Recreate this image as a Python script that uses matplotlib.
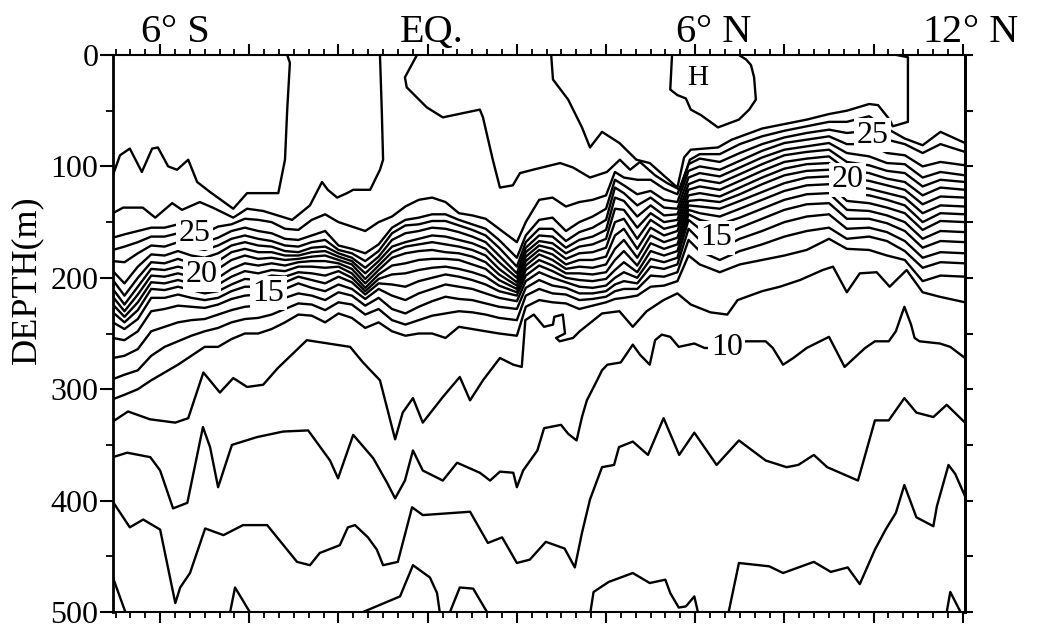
import numpy as np
import matplotlib
matplotlib.use("Agg")
import matplotlib.pyplot as plt

plt.rcParams['font.family'] = ['Liberation Serif', 'DejaVu Serif']

# ---------------- data (latitude in degrees, negative = S; depth in m) ----------------
LAT_BAND = [-7.06, -6.8, -6.5, -6.2, -5.9, -5.6, -5.3, -5.0, -4.7, -4.4,
            -4.1, -3.8, -3.5, -3.2, -2.9, -2.6, -2.3, -2.0, -1.7, -1.4,
            -1.1, -0.8, -0.5, -0.2, 0.1, 0.4, 0.7, 1.0, 1.3, 1.6,
            2.0, 2.2, 2.5, 2.8, 3.1, 3.4, 3.7, 4.0, 4.2, 4.4,
            4.7, 5.0, 5.3, 5.6, 5.85, 6.1, 6.55, 7.0, 7.5, 8.0,
            8.5, 9.0, 9.4, 9.9, 10.3, 10.7, 11.1, 11.5, 12.05]

ISO_25 = [164,161,158,155,155,152,158,160,154,152, 147,148,150,156,157,148,143,150,154,158,
          150,145,136,130,128,132,142,144,147,156, 168,150,130,128,136,132,130,126,105,110,
          112,112,120,125,98,93,96,88,80,74, 70,67,70,68,76,80,88,80,87]
ISO_24 = [175,172,168,163,163,160,166,168,164,158, 155,158,160,165,166,162,158,171,174,178,
          170,155,148,146,143,143,148,152,156,166, 182,162,148,146,158,150,145,138,112,117,
          125,122,130,132,104,100,103,95,86,79, 76,73,80,80,88,90,100,96,99]
ISO_23 = [185,186,178,171,172,168,173,175,171,165, 162,165,167,171,172,168,166,175,178,185,
          176,160,153,152,149,149,153,157,162,173, 190,168,156,156,167,159,155,148,119,124,
          135,128,137,138,110,106,109,101,92,85, 82,79,88,91,97,98,110,105,108]
ISO_22 = [194,205,190,179,180,176,180,182,178,171, 168,171,172,176,177,173,172,178,182,191,
          181,166,160,158,155,156,159,163,168,180, 196,173,162,163,173,166,163,157,128,131,
          145,135,144,143,116,112,115,107,98,90, 87,85,96,99,104,106,118,112,114]
ISO_21 = [202,216,200,186,187,183,187,189,185,177, 174,177,177,180,180,177,176,181,185,196,
          185,172,168,165,162,163,166,169,174,186, 200,177,167,169,178,172,170,165,138,139,
          155,142,150,148,121,118,121,113,104,96, 93,91,103,106,111,114,126,119,121]
ISO_20 = [210,224,208,192,193,190,193,196,192,184, 180,183,182,184,183,181,180,184,188,201,
          189,177,172,170,168,170,172,175,180,192, 204,181,171,174,183,178,177,173,150,147,
          165,148,156,153,126,124,127,119,110,102, 98,97,110,113,117,121,134,127,128]
ISO_19 = [217,230,215,198,199,196,199,202,200,192, 187,189,187,189,186,185,185,187,192,205,
          193,182,178,176,175,177,178,181,186,197, 207,185,175,179,188,184,184,181,162,156,
          174,155,162,158,131,130,132,125,116,108, 104,103,117,120,124,128,142,135,136]
ISO_18 = [224,235,222,204,205,202,205,208,206,199, 194,196,193,194,190,190,191,190,196,209,
          197,189,187,184,183,183,184,188,192,202, 210,189,179,184,192,190,191,188,174,166,
          182,162,168,164,135,136,138,131,123,115, 110,109,124,126,130,135,150,142,143]
ISO_17 = [231,240,229,210,211,208,211,214,212,206, 201,202,198,199,195,196,198,194,200,212,
          201,197,196,193,191,190,192,195,199,207, 213,193,184,189,196,196,197,195,184,176,
          189,169,174,170,139,142,145,138,130,122, 117,116,131,133,137,142,157,149,150]
ISO_16 = [240,246,237,218,218,215,218,220,218,212, 208,208,203,204,199,202,205,199,204,215,
          205,206,208,203,200,197,199,202,206,212, 216,198,189,194,200,202,203,201,193,186,
          195,176,180,176,143,148,152,146,138,130, 125,124,139,140,144,150,165,158,159]
ISO_15 = [254,256,248,230,228,225,226,227,224,219, 216,215,212,210,205,209,212,206,210,219,
          210,216,220,214,210,206,208,210,214,218, 221,203,195,200,204,208,209,207,200,195,
          200,183,186,182,148,156,163,155,147,139, 134,133,147,147,151,158,173,167,168]
ISO_14 = [272,270,264,248,244,240,238,237,233,229, 226,225,222,218,214,216,220,213,216,225,
          218,228,232,226,221,217,219,220,223,226, 228,209,202,207,209,214,214,212,206,203,
          205,190,192,188,156,166,174,165,158,150, 145,143,156,155,159,167,182,177,178]
ISO_13 = [291,287,283,270,262,257,252,248,245,240, 237,236,233,228,223,224,229,222,224,233,
          228,238,242,238,234,232,230,231,233,236, 238,216,210,214,215,220,219,217,212,210,
          210,198,199,195,166,176,184,176,170,163, 158,155,165,163,167,176,191,186,187]
ISO_12 = [309,305,300,292,285,278,270,262,262,255, 250,250,246,240,233,234,240,232,236,245,
          240,248,252,250,250,254,244,246,248,250, 252,226,220,222,223,228,225,222,219,218,
          216,208,207,203,180,188,195,188,184,180, 175,165,174,175,180,184,203,198,199]

# 27 C isotherm, southern part (outcrops near 3 S)
ISO_27S_LAT = [-7.06, -6.90, -6.68, -6.41, -6.18, -6.05, -5.82, -5.62, -5.37, -5.17,
               -4.88, -4.36, -4.05, -3.35, -3.20, -3.15, -3.09, -3.15]
ISO_27S_DEP = [108, 90, 84, 105, 84, 83, 100, 103, 94, 114, 123, 138, 124, 124, 94, 49, 7, 0]
# 26 C isotherm, southern part (outcrops near 1 S)
ISO_26S_LAT = [-7.06, -6.83, -6.39, -6.11, -5.73, -5.51, -5.11, -4.82, -4.36, -4.05, -3.69,
               -3.04, -2.64, -2.37, -2.24, -2.03, -1.81, -1.67, -1.29, -1.07, -1.00, -1.03, -1.07]
ISO_26S_DEP = [142, 137, 137, 146, 133, 139, 132, 137, 146, 138, 140,
               148, 135, 114, 121, 128, 124, 121, 121, 103, 94, 49, 0]
# 26 C isotherm, northern part (outcrops at the equator)
ISO_26N_LAT = [-0.24, -0.51, -0.47, -0.02, 0.34, 1.17, 1.24, 1.46, 1.62, 1.91, 2.07, 2.36,
               2.97, 3.26, 3.64, 4.02, 4.31, 4.54, 4.76, 5.10, 5.37, 5.66, 5.88, 6.10, 6.55,
               7.0, 7.5, 8.0, 8.5, 9.0, 9.4, 9.9, 10.3, 10.7, 11.1, 11.5, 12.05]
ISO_26N_DEP = [0, 20, 29, 47, 56, 49, 56, 94, 119, 117, 106, 103,
               97, 101, 110, 105, 94, 103, 96, 108, 115, 121, 94, 89, 89,
               80, 73, 68, 64, 60, 60, 55, 66, 75, 81, 69, 79]
# 27 C isotherm, northern warm pool (3 N - 11 N)
ISO_27N_LAT = [2.77, 2.81, 3.15, 3.46, 3.64, 3.91, 4.30, 4.68, 4.98, 5.60, 5.75, 5.90, 6.51,
               6.82, 7.50, 8.00, 8.50, 9.00, 9.40, 9.90, 10.10, 10.36, 10.43, 10.77, 10.77, 10.52]
ISO_27N_DEP = [0, 22, 40, 65, 83, 69, 79, 94, 97, 119, 92, 85, 83,
               76, 66, 62, 58, 53, 50, 44, 45, 58, 64, 60, 2, 0]
# 28 C closed high near 6 N
ISO_28_LAT = [5.48, 5.44, 5.60, 5.79, 5.90, 6.13, 6.51, 6.98, 7.21, 7.36, 7.32, 7.25, 7.14, 6.98]
ISO_28_DEP = [0, 31, 36, 39, 49, 54, 65, 58, 49, 40, 20, 9, 4, 0]

ISO_11_LAT = [-7.06, -6.72, -6.23, -5.66, -5.37, -5.03, -4.66, -4.36, -4.05, -3.69,
              -3.36, -2.71, -1.74, -1.45, -1.07, -0.73, -0.56, -0.33, -0.11, 0.34,
              0.72, 0.95, 1.24, 1.62, 1.92, 2.11, 2.19, 2.38, 2.61, 2.81,
              2.84, 3.03, 3.08, 2.88, 2.96, 3.26, 3.41, 3.91, 4.30, 4.60,
              4.91, 5.29, 5.60, 5.90, 6.34, 6.72, 6.95, 7.50, 7.90, 8.35,
              8.86, 9.09, 9.40, 9.69, 10.07, 10.36, 10.74, 11.10, 11.48, 12.05]
ISO_11_DEP = [329, 320, 327, 330, 326, 285, 303, 290, 298, 296,
              281, 256, 262, 276, 292, 345, 321, 308, 330, 307,
              289, 310, 292, 272, 278, 280, 238, 233, 244, 242,
              235, 233, 250, 254, 257, 254, 248, 232, 230, 244,
              230, 220, 214, 224, 231, 233, 220, 212, 208, 202,
              193, 190, 213, 196, 195, 208, 193, 213, 217, 222]

ISO_10_LAT = [-7.06, -6.74, -6.22, -6.00, -5.71, -5.39, -5.04, -4.88, -4.70, -4.39,
              -3.83, -3.24, -2.68, -2.19, -2.01, -1.67, -1.22, -0.91, -0.73, -0.51,
              -0.33, -0.11, 0.34, 0.66, 1.17, 1.40, 1.62, 1.92, 2.00, 2.14,
              2.46, 2.61, 2.99, 3.15, 3.34, 3.46, 3.57, 3.80, 3.91, 4.03,
              4.33, 4.60, 4.76, 4.98, 5.10, 5.25, 5.44, 5.63, 5.98, 6.21,
              6.67, 7.13, 7.58, 7.74, 7.97, 8.20, 8.50, 9.00, 9.35, 9.81,
              10.03, 10.34, 10.50, 10.69, 10.84, 10.92, 11.03, 11.49, 11.72, 12.05]
ISO_10_DEP = [361, 357, 361, 373, 407, 402, 334, 352, 388, 350,
              343, 338, 337, 364, 380, 341, 362, 384, 398, 382,
              355, 373, 382, 366, 375, 382, 374, 375, 388, 373,
              355, 335, 332, 340, 346, 325, 310, 292, 283, 278,
              276, 260, 269, 278, 256, 251, 253, 262, 259, 263,
              263, 257, 257, 263, 278, 272, 263, 253, 280, 263,
              257, 257, 248, 226, 242, 254, 257, 259, 262, 272]

ISO_9_LAT = [-7.06, -6.68, -6.38, -6.00, -5.66, -5.55, -5.33, -4.99, -4.58, -4.14,
             -3.60, -2.93, -2.64, -2.42, -1.97, -1.79, -1.63, -1.34, -1.14, -1.00,
             -0.67, -0.35, -0.11, 0.95, 1.35, 1.67, 2.00, 2.29, 2.65, 3.07,
             3.30, 3.46, 3.64, 3.91, 4.18, 4.29, 4.60, 4.94, 5.29, 5.64,
             5.98, 6.48, 6.98, 7.58, 8.05, 8.31, 8.66, 8.96, 9.65, 10.03,
             10.34, 10.69, 10.96, 11.34, 11.64, 12.05]
ISO_9_DEP = [401, 424, 417, 426, 492, 478, 465, 425, 431, 422,
             422, 455, 458, 447, 440, 424, 422, 433, 444, 458,
             455, 406, 413, 410, 438, 433, 456, 453, 437, 443,
             460, 429, 399, 370, 368, 352, 347, 359, 326, 359,
             339, 368, 346, 364, 370, 368, 359, 370, 382, 328,
             328, 308, 321, 325, 314, 330]

# 8 C isotherm: pieces between the bottom of the section and 500 m
ISO_8_PIECES_LAT = [[-7.06, -6.78],
                    [-4.43, -4.32, -3.99],
                    [-1.45, -0.62, -0.33, 0.05, 0.21, 0.27],
                    [0.50, 0.72, 1.02, 1.33],
                    [3.65, 3.72, 4.06, 4.60, 4.98, 5.33, 5.44, 5.63, 5.79, 5.98, 6.06],
                    [6.75, 6.98, 7.66, 7.97, 8.66, 9.04, 9.42, 9.69, 10.03, 10.27, 10.50,
                     10.69, 10.96, 11.34, 11.42, 11.68, 11.83, 12.05],
                    [11.64, 11.72, 11.95]]
ISO_8_PIECES_DEP = [[469, 500],
                    [500, 478, 500],
                    [500, 486, 458, 469, 483, 500],
                    [500, 478, 479, 500],
                    [500, 482, 473, 465, 474, 471, 483, 496, 495, 486, 500],
                    [500, 456, 459, 465, 455, 464, 460, 475, 444, 426, 411,
                     386, 415, 423, 405, 368, 376, 396],
                    [500, 482, 500]]

LABEL_TEXT = ['25', '20', '15', '25', '20', '15', '10']
LABEL_LAT = [-5.22, -5.06, -3.58, 9.98, 9.41, 6.47, 6.71]
LABEL_DEP = [160, 197, 214, 72, 112, 164, 263]

TOP_TICK_LAT = [-6, 0, 6, 12]
TOP_TICK_NUM = ['6', 'EQ.', '6', '12']
TOP_TICK_HEMI = ['\u00b0 S', '', '\u00b0 N', '\u00b0 N']
DEPTH_TICKS = [0, 100, 200, 300, 400, 500]

# ---------------- figure ----------------
fig = plt.figure(figsize=(10.41, 6.30), dpi=100)
ax = fig.add_axes([113 / 1041, 1 - 612 / 630, (965 - 113) / 1041, (612 - 55) / 630])
ax.set_xlim(-7.057, 12.05)
ax.set_ylim(500, 0)

lw = 1.7
band = [ISO_25, ISO_24, ISO_23, ISO_22, ISO_21, ISO_20, ISO_19, ISO_18,
        ISO_17, ISO_16, ISO_15, ISO_14, ISO_13, ISO_12]
for dep in band:
    ax.plot(LAT_BAND, dep, color='black', lw=lw)

for la, de in [(ISO_27S_LAT, ISO_27S_DEP), (ISO_26S_LAT, ISO_26S_DEP),
               (ISO_26N_LAT, ISO_26N_DEP), (ISO_27N_LAT, ISO_27N_DEP),
               (ISO_28_LAT, ISO_28_DEP), (ISO_11_LAT, ISO_11_DEP),
               (ISO_10_LAT, ISO_10_DEP), (ISO_9_LAT, ISO_9_DEP)]:
    ax.plot(la, de, color='black', lw=lw)
for la, de in zip(ISO_8_PIECES_LAT, ISO_8_PIECES_DEP):
    ax.plot(la, de, color='black', lw=lw)

for t, la, de in zip(LABEL_TEXT, LABEL_LAT, LABEL_DEP):
    ax.text(la, de, t, fontsize=23, ha='center', va='center', zorder=5,
            bbox=dict(boxstyle='square,pad=0.08', facecolor='white', edgecolor='none'))
ax.text(6.06, 21, 'H', fontsize=21, ha='center', va='center', zorder=5)

# ---------------- axes decoration ----------------
for side in ['left', 'right']:
    ax.spines[side].set_linewidth(2.0)
for side in ['top', 'bottom']:
    ax.spines[side].set_linewidth(1.5)

ax.set_xticks(list(range(-6, 13, 2)))
ax.set_xticks([k / 3 for k in range(-21, 37) if k % 6 != 0], minor=True)
ax.tick_params(axis='x', which='major', top=True, bottom=True, direction='out',
               length=8, width=1.5, labelbottom=False, labeltop=False)
ax.tick_params(axis='x', which='minor', top=True, bottom=True, direction='out',
               length=4, width=1.3)

ax.set_yticks(DEPTH_TICKS)
ax.set_yticklabels([str(v) for v in DEPTH_TICKS])
ax.set_yticks([50, 150, 250, 350, 450], minor=True)
ax.tick_params(axis='y', which='major', left=True, right=False, direction='out',
               length=9.5, width=1.5, labelsize=23, pad=1)
ax.tick_params(axis='y', which='minor', left=True, right=False, direction='out',
               length=5, width=1.3)

ax2 = ax.twinx()
ax2.set_ylim(500, 0)
ax2.set_yticks(list(range(0, 501, 50)))
ax2.tick_params(axis='y', direction='out', length=6, width=1.5, labelright=False)
for side in ['left', 'top', 'bottom']:
    ax2.spines[side].set_visible(False)
ax2.spines['right'].set_linewidth(2.0)

for la, num, hemi in zip(TOP_TICK_LAT, TOP_TICK_NUM, TOP_TICK_HEMI):
    if hemi:
        ax.annotate(num, xy=(la, 1), xycoords=('data', 'axes fraction'),
                    xytext=(0, 9), textcoords='offset points',
                    ha='right', va='baseline', fontsize=29, annotation_clip=False)
        ax.annotate(hemi, xy=(la, 1), xycoords=('data', 'axes fraction'),
                    xytext=(0.5, 9), textcoords='offset points',
                    ha='left', va='baseline', fontsize=29, annotation_clip=False)
    else:
        ax.annotate(num, xy=(la + 0.1, 1), xycoords=('data', 'axes fraction'),
                    xytext=(0, 9), textcoords='offset points',
                    ha='center', va='baseline', fontsize=29, annotation_clip=False)

fig.text(27 / 1041, 1 - 280 / 630, 'DEPTH(m)', rotation=90, fontsize=26,
         ha='center', va='center')

fig.savefig('out.png', dpi=100, facecolor='white')
